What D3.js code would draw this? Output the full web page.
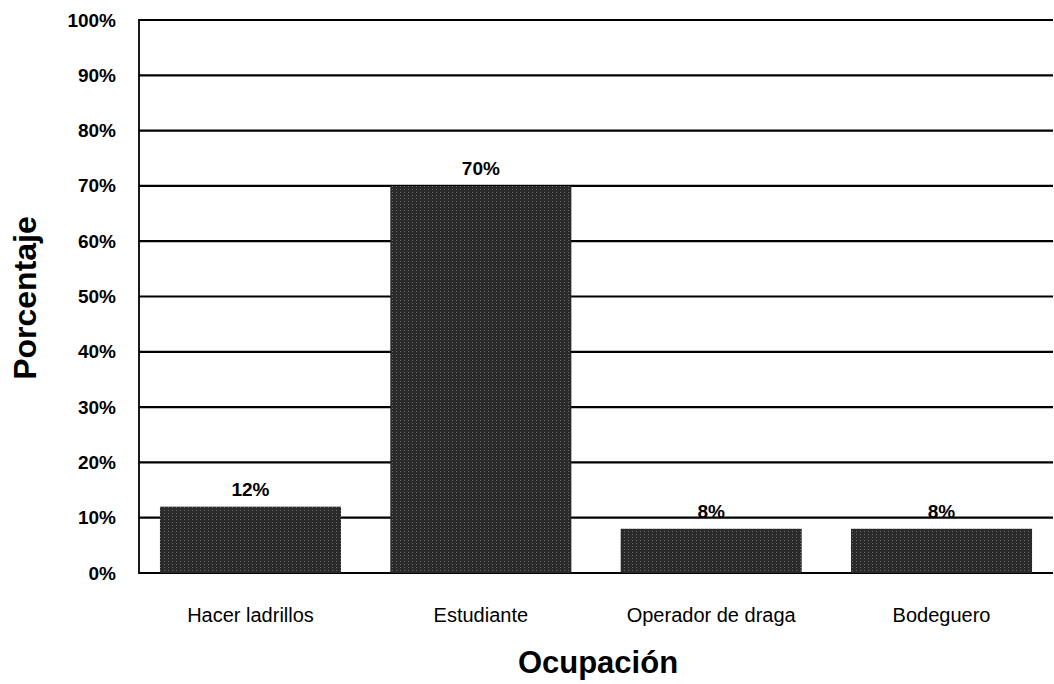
<!DOCTYPE html>
<html>
<head>
<meta charset="utf-8">
<script src="https://cdn.jsdelivr.net/npm/d3@7"></script>
<style>
  body { margin: 0; background: #fff; }
  svg { font-family: "Liberation Sans", Arial, sans-serif; }
</style>
</head>
<body>
<svg class="view" width="1054" height="684"></svg>
<script>
var categories = ['Hacer ladrillos', 'Estudiante', 'Operador de draga', 'Bodeguero'];
var values = [12, 70, 8, 8];
var tickValues = [0, 10, 20, 30, 40, 50, 60, 70, 80, 90, 100];

var svg = d3.select('.view'),
    margin = {top: 20, right: 1, bottom: 111, left: 139},
    width = +svg.attr('width') - margin.left - margin.right,
    height = +svg.attr('height') - margin.top - margin.bottom;

// stippled fill, like the scanned print
var defs = svg.append('defs');
var pat = defs.append('pattern')
    .attr('id', 'stipple')
    .attr('patternUnits', 'userSpaceOnUse')
    .attr('width', 4)
    .attr('height', 3);
pat.append('rect').attr('width', 4).attr('height', 3).attr('fill', '#2a2a2a');
pat.append('rect').attr('x', 1).attr('y', 1).attr('width', 1).attr('height', 1).attr('fill', '#6a6a6a');

var g = svg.append('g')
    .attr('transform', 'translate(' + margin.left + ',' + margin.top + ')');

var x = d3.scaleBand()
    .domain(categories)
    .range([0, width])
    .paddingInner(0.214)
    .paddingOuter(0.091);

var y = d3.scaleLinear()
    .domain([0, 100])
    .range([height, 0]);

// gridlines
g.append('g')
    .selectAll('line')
    .data(tickValues)
    .enter().append('line')
    .attr('x1', 0)
    .attr('x2', width)
    .attr('y1', function (d) { return y(d); })
    .attr('y2', function (d) { return y(d); })
    .attr('stroke', '#000')
    .attr('stroke-width', 2.2);

// left border
g.append('line')
    .attr('x1', 0).attr('x2', 0)
    .attr('y1', -1).attr('y2', height + 1)
    .attr('stroke', '#000')
    .attr('stroke-width', 1.8);

// y axis labels
var yAxis = d3.axisLeft(y)
    .tickValues(tickValues)
    .tickSize(0)
    .tickPadding(23)
    .tickFormat(function (d) { return d + '%'; });

g.append('g')
    .call(yAxis)
    .call(function (s) { s.select('.domain').remove(); })
    .selectAll('text')
    .attr('font-family', '"Liberation Sans", Arial, sans-serif')
    .attr('font-size', 19)
    .attr('font-weight', 'bold')
    .attr('fill', '#000');

// bars
g.append('g')
    .selectAll('rect')
    .data(values)
    .enter().append('rect')
    .attr('x', function (d, i) { return x(categories[i]); })
    .attr('y', function (d) { return y(d); })
    .attr('width', x.bandwidth())
    .attr('height', function (d) { return height - y(d); })
    .attr('fill', 'url(#stipple)');

// value labels
g.append('g')
    .selectAll('text')
    .data(values)
    .enter().append('text')
    .attr('x', function (d, i) { return x(categories[i]) + x.bandwidth() / 2; })
    .attr('y', function (d) { return y(d) - 11; })
    .attr('text-anchor', 'middle')
    .attr('font-size', 19)
    .attr('font-weight', 'bold')
    .text(function (d) { return d + '%'; });

// x axis labels
var xAxis = d3.axisBottom(x)
    .tickSize(0)
    .tickPadding(35);

g.append('g')
    .attr('transform', 'translate(0,' + height + ')')
    .call(xAxis)
    .call(function (s) { s.select('.domain').remove(); })
    .selectAll('text')
    .attr('font-family', '"Liberation Sans", Arial, sans-serif')
    .attr('font-size', 20)
    .attr('fill', '#000');

// axis titles
svg.append('text')
    .attr('x', 598)
    .attr('y', 673)
    .attr('text-anchor', 'middle')
    .attr('font-size', 31)
    .attr('font-weight', 'bold')
    .text('Ocupación');

svg.append('text')
    .attr('transform', 'translate(36,298) rotate(-90)')
    .attr('text-anchor', 'middle')
    .attr('font-size', 32)
    .attr('font-weight', 'bold')
    .text('Porcentaje');
</script>
</body>
</html>
